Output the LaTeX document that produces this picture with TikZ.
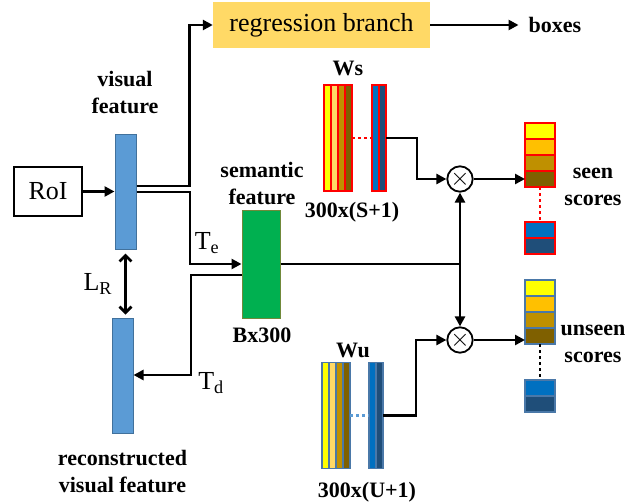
\documentclass[tikz,border=0pt]{standalone}
\usepackage{fontspec}
\setmainfont{Liberation Serif}
\usetikzlibrary{arrows.meta,positioning}

\definecolor{featblue}{HTML}{5B9BD5}
\definecolor{featedge}{HTML}{41719C}
\definecolor{semgreen}{HTML}{00B050}
\definecolor{semedge}{HTML}{70893A}
\definecolor{regfill}{HTML}{FFD966}
\definecolor{wyellow}{HTML}{FFFF00}
\definecolor{wlight}{HTML}{FFD966}
\definecolor{worange}{HTML}{FFC000}
\definecolor{wgold}{HTML}{BF9000}
\definecolor{wbrown}{HTML}{7F6000}
\definecolor{wblue}{HTML}{0070C0}
\definecolor{wnavy}{HTML}{1F4E79}
\definecolor{wedge}{HTML}{4A78A8}

\begin{document}
\begin{tikzpicture}[x=1pt, y=-1pt,
    conn/.style={line width=2.8pt},
    arr/.style={conn, -{Triangle[length=10pt,width=10pt]}},
    bar/.style={rectangle, fill=featblue, draw=featedge, line width=1pt, minimum width=21pt, inner sep=0pt},
    col/.style={rectangle, draw=#1, line width=1.2pt, minimum width=7pt, minimum height=106pt, inner sep=0pt, outer sep=0pt},
    cell/.style={rectangle, draw=#1, line width=1.2pt, minimum width=30pt, minimum height=16pt, inner sep=0pt, outer sep=0pt},
    lab/.style={font=\fontsize{22}{27}\selectfont\bfseries, align=center, inner sep=0pt},
    txt/.style={font=\fontsize{26}{30}\selectfont, inner sep=0pt},
    otim/.style={circle, draw, line width=1.8pt, minimum size=24pt, inner sep=0pt, font=\fontsize{26}{26}\selectfont},
    dots/.style={line width=2.5pt, dash pattern=on 3pt off 3pt}]
    {
    \useasboundingbox (0,0) rectangle (640,503);

    % feature blocks
    \node[draw, line width=1.5pt, minimum width=68pt, minimum height=49pt, txt] (roi) at (48,191.5) {RoI};
    \node[bar, minimum height=115pt] (vis) at (125.5,191.5) {};
    \node[bar, minimum height=115pt] (rec) at (122.5,375.5) {};
    \node[rectangle, fill=semgreen, draw=semedge, line width=1pt, minimum width=38pt, minimum height=108pt] (sem) at (261,264) {};
    \node[fill=regfill, minimum width=217pt, minimum height=46pt, txt] (reg) at (321.5,25) {regression branch};

    % Ws
    \node[col=red, fill=wyellow] (ws1) at (327.5,138) {};
    \node[col=red, fill=wlight, right=0pt of ws1] (ws2) {};
    \node[col=red, fill=wgold, right=0pt of ws2] (ws3) {};
    \node[col=red, fill=wbrown, right=0pt of ws3] (ws4) {};
    \node[col=red, fill=wblue] (ws5) at (375.5,138) {};
    \node[col=red, fill=wnavy, right=0pt of ws5] (ws6) {};

    % Wu
    \node[col=wedge, fill=wyellow] (wu1) at (325.5,415.5) {};
    \node[col=wedge, fill=wlight, right=0pt of wu1] (wu2) {};
    \node[col=wedge, fill=wgold, right=0pt of wu2] (wu3) {};
    \node[col=wedge, fill=wbrown, right=0pt of wu3] (wu4) {};
    \node[col=wedge, fill=wblue] (wu5) at (372.5,415.5) {};
    \node[col=wedge, fill=wnavy, right=0pt of wu5] (wu6) {};

    % seen scores
    \node[cell=red, fill=wyellow] (s1) at (540,131) {};
    \node[cell=red, fill=worange, below=0pt of s1] (s2) {};
    \node[cell=red, fill=wgold, below=0pt of s2] (s3) {};
    \node[cell=red, fill=wbrown, below=0pt of s3] (s4) {};
    \node[cell=red, fill=wblue] (s5) at (540,230) {};
    \node[cell=red, fill=wnavy, below=0pt of s5] (s6) {};

    % unseen scores
    \node[cell=wedge, fill=wyellow] (u1) at (540,288) {};
    \node[cell=wedge, fill=worange, below=0pt of u1] (u2) {};
    \node[cell=wedge, fill=wgold, below=0pt of u2] (u3) {};
    \node[cell=wedge, fill=wbrown, below=0pt of u3] (u4) {};
    \node[cell=wedge, fill=wblue] (u5) at (540,388) {};
    \node[cell=wedge, fill=wnavy, below=0pt of u5] (u6) {};

    \node[otim] (ot1) at (460,179) {$\times$};
    \node[otim] (ot2) at (460,340) {$\times$};

    % labels
    \node[lab] (vislab) at (125,93) {visual\\feature};
    \node[lab] (semlab) at (262,184) {semantic\\feature};
    \node[lab] (bsize) at (262,335) {Bx300};
    \node[lab] (reclab) at (122.5,471.5) {reconstructed\\visual feature};
    \node[lab] (wslab) at (348,68) {Ws};
    \node[lab] (wssize) at (352,212) {300x(S+1)};
    \node[lab] (wulab) at (353,350) {Wu};
    \node[lab] (wusize) at (367,492) {300x(U+1)};
    \node[lab] (seenlab) at (593,186.5) {seen\\scores};
    \node[lab] (unseenlab) at (593,343.5) {unseen\\scores};
    \node[lab] (boxes) at (555,25) {boxes};
    \node[txt] (telab) at (207,243) {T\textsubscript{e}};
    \node[txt] (tdlab) at (211,383) {T\textsubscript{d}};

    % connectors
    \coordinate (te) at (190,264);
    \coordinate (td) at (191,375);
    \coordinate (jn) at (ot1 |- sem.east);

    \draw[arr] (roi) -- (vis);
    \draw[arr] ([yshift=5.5pt]vis.east) -| ([xshift=-23pt]reg.west) -- (reg.west);
    \draw[arr] ([yshift=-0.5pt]vis.east) -| (te) -- (sem.west);
    \draw[arr] ([yshift=-11pt]sem.west) -| (td) -- (rec.east |- td);
    \draw[conn, {Straight Barb[length=6pt,width=12pt]}-{Straight Barb[length=6pt,width=12pt]}]
        ([yshift=-4pt]vis.south) -- ([yshift=3pt]vis.south |- rec.north)
        node[midway, left=12pt, txt] (lrlab) {L\textsubscript{R}};
    \draw[arr] (reg) -- ([xshift=-10pt]boxes.west);

    \draw[dots, red] (ws4.east) -- (ws5.west);
    \draw[dots, featblue] (wu4.east) -- (wu5.west);
    \draw[dots, red] (s4.south) -- (s5.north);
    \draw[dots] (u4.south) -- (u5.north);

    \draw[arr] (ws6.east) -- ++(31,0) |- (ot1);
    \draw[arr] (wu6.east) -- ++(33,0) |- (ot2);
    \draw[conn] (sem.east) -- (jn);
    \draw[arr] (jn) -- (ot1);
    \draw[arr] (jn) -- (ot2);
    \draw[arr] (ot1) -- (ot1 -| s4.west);
    \draw[arr] (ot2) -- (ot2 -| u4.west);
}
\end{tikzpicture}
\end{document}
